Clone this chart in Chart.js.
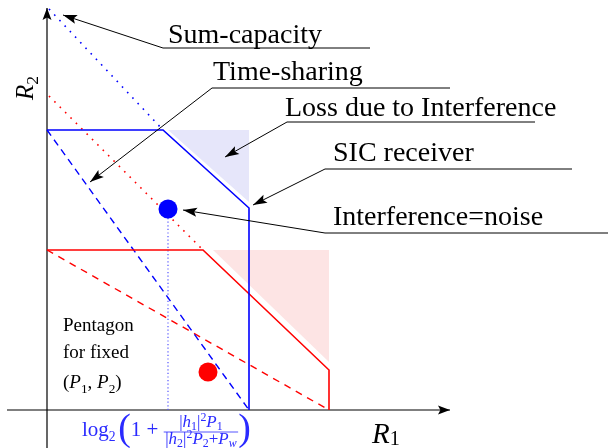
<!DOCTYPE html>
<html>
<head>
<meta charset="utf-8">
<script src="https://cdn.jsdelivr.net/npm/chart.js@4"></script>
<style>
  body { margin: 0; background: #fff; }
  #wrap { width: 608px; height: 448px; }
</style>
</head>
<body>
<div id="wrap"><canvas id="region"></canvas></div>
<script>
// --- Data (R1 along x, R2 along y, arbitrary rate units) ---
const blueRegionX = [0, 116, 202, 202];
const blueRegionY = [280, 280, 202, 0];
const redRegionX = [0, 156, 282, 282];
const redRegionY = [160, 160, 40, 0];

const blueSumX = [2, 116];
const blueSumY = [401, 280];
const redSumX = [2, 156];
const redSumY = [314, 160];

const blueShareX = [0, 202];
const blueShareY = [280, 0];
const redShareX = [0, 282];
const redShareY = [160, 0];

const noiseRateX = [121, 121];
const noiseRateY = [192, 0];
const noisePointX = [121, 161];
const noisePointY = [201, 38];

const blueLossX = [121, 202];
const blueLossY = [280, 208];
const redLossX = [166, 282];
const redLossY = [160, 48];

const axisX = [-40, 403];
const axisY = [-38, 402];

// annotations: tip of arrow -> knee -> end of underline
const notes = ['Sum-capacity', 'Time-sharing', 'Loss due to Interference', 'SIC receiver', 'Interference=noise'];
const noteTipX = [16, 43, 178, 206, 136];
const noteTipY = [395, 228, 253, 205, 200];
const noteKneeX = [116, 165, 240, 278, 278];
const noteKneeY = [362, 322, 288, 241, 177];
const noteEndX = [323, 403, 488, 525, 561];

// --- Layout of texts (data units) ---
const noteTextX = [121, 166, 238, 286, 286];
const noteTextY = [367, 330, 294, 249, 185];
const SERIF = '"Liberation Serif", "Times New Roman", serif';

const pts = (xs, ys) => xs.map((x, i) => ({ x, y: ys[i] }));

function line(xs, ys, color, width, dash) {
    return {
        data: pts(xs, ys),
        borderColor: color,
        borderWidth: width,
        borderDash: dash || [],
        pointRadius: 0,
        showLine: true,
        fill: false
    };
}

// run of text pieces: t text, it italic, k size factor, dy baseline shift (em)
function run(ctx, x, y, size, parts, dry) {
    parts.forEach(p => {
        const s = size * (p.k || 1);
        ctx.font = (p.it ? 'italic ' : '') + s + 'px ' + SERIF;
        if (!dry) ctx.fillText(p.t, x, y + (p.dy || 0) * size);
        x += ctx.measureText(p.t).width;
    });
    return x;
}

function arrowHead(ctx, fx, fy, tx, ty, color, len, w) {
    const a = Math.atan2(ty - fy, tx - fx);
    ctx.save();
    ctx.translate(tx, ty);
    ctx.rotate(a);
    ctx.fillStyle = color;
    ctx.beginPath();
    ctx.moveTo(0, 0);
    ctx.lineTo(-len, -w);
    ctx.lineTo(-len * 0.8, 0);
    ctx.lineTo(-len, w);
    ctx.closePath();
    ctx.fill();
    ctx.restore();
}

const notesPlugin = {
    id: 'notes',
    afterDatasetsDraw(chart) {
        const { ctx, scales: { x: sx, y: sy } } = chart;
        const px = v => sx.getPixelForValue(v);
        const py = v => sy.getPixelForValue(v);
        ctx.save();

        // arrowheads on leader lines and axes
        chart.data.datasets.forEach((ds, i) => {
            if (ds.arrowAt === undefined) return;
            const el = chart.getDatasetMeta(i).data;
            const tip = ds.arrowAt === 0 ? el[0] : el[el.length - 1];
            const from = ds.arrowAt === 0 ? el[1] : el[el.length - 2];
            arrowHead(ctx, from.x, from.y, tip.x, tip.y, '#000', ds.arrowAt === 0 ? 14 : 12, 4.5);
        });

        // annotation texts
        ctx.fillStyle = '#000';
        ctx.textBaseline = 'alphabetic';
        ctx.font = '28px ' + SERIF;
        notes.forEach((t, i) => ctx.fillText(t, px(noteTextX[i]), py(noteTextY[i])));

        // pentagon caption
        ctx.font = '19px ' + SERIF;
        ctx.fillText('Pentagon', px(16), py(79));
        ctx.fillText('for fixed', px(16), py(52));
        run(ctx, px(16), py(22), 19, [
            { t: '(' }, { t: 'P', it: true }, { t: '1', k: 0.7, dy: 0.25 }, { t: ', ' },
            { t: 'P', it: true }, { t: '2', k: 0.7, dy: 0.25 }, { t: ')' }
        ]);

        // axis names
        run(ctx, px(325), py(-33), 29, [{ t: 'R', it: true }, { t: '1', k: 0.7, dy: 0.08 }]);
        ctx.save();
        ctx.translate(px(-14), py(310));
        ctx.rotate(-Math.PI / 2);
        run(ctx, 0, 0, 25, [{ t: 'R', it: true }, { t: '2', k: 0.7, dy: 0.2 }]);
        ctx.restore();

        // rate formula under the R1 axis
        ctx.fillStyle = '#2a2aff';
        ctx.strokeStyle = '#2a2aff';
        const base = py(-26);
        let x = run(ctx, px(35), base, 21, [
            { t: 'log' }, { t: '2', k: 0.65, dy: 0.25 }, { t: ' ', k: 0.5 },
            { t: '(', k: 1.8, dy: 0.17 }, { t: '1 + ' }
        ]);
        const num = [
            { t: '|' }, { t: 'h', it: true }, { t: '1', k: 0.7, dy: 0.2 }, { t: '|' },
            { t: '2', k: 0.7, dy: -0.35 }, { t: 'P', it: true }, { t: '1', k: 0.7, dy: 0.2 }
        ];
        const den = [
            { t: '|' }, { t: 'h', it: true }, { t: '2', k: 0.7, dy: 0.2 }, { t: '|' },
            { t: '2', k: 0.7, dy: -0.35 }, { t: 'P', it: true }, { t: '2', k: 0.7, dy: 0.2 },
            { t: '+' }, { t: 'P', it: true }, { t: 'w', it: true, k: 0.7, dy: 0.2 }
        ];
        const wn = run(ctx, 0, 0, 17, num, true);
        const wd = run(ctx, 0, 0, 17, den, true);
        const wf = Math.max(wn, wd) + 3;
        run(ctx, x + (wf - wn) / 2, base - 9, 17, num);
        run(ctx, x + (wf - wd) / 2, base + 8, 17, den);
        ctx.lineWidth = 0.8;
        ctx.beginPath();
        ctx.moveTo(x, base - 4);
        ctx.lineTo(x + wf, base - 4);
        ctx.stroke();
        run(ctx, x + wf, base, 21, [{ t: ')', k: 1.8, dy: 0.17 }]);

        ctx.restore();
    }
};

const leaders = notes.map((t, i) => {
    const ds = line([noteTipX[i], noteKneeX[i], noteEndX[i]],
                    [noteTipY[i], noteKneeY[i], noteKneeY[i]], '#000', 1);
    ds.arrowAt = 0;
    return ds;
});

const xAxisLine = line(axisX, [0, 0], '#000', 1.2);
xAxisLine.arrowAt = 'end';
const yAxisLine = line([0, 0], axisY, '#000', 1.2);
yAxisLine.arrowAt = 'end';

const blueShade = line(blueLossX, blueLossY, 'rgba(0,0,0,0)', 0);
blueShade.fill = { target: { value: 280 } };
blueShade.backgroundColor = '#e6e6fa';
const redShade = line(redLossX, redLossY, 'rgba(0,0,0,0)', 0);
redShade.fill = { target: { value: 160 } };
redShade.backgroundColor = '#fde4e4';

new Chart(document.getElementById('region'), {
    type: 'scatter',
    data: {
        datasets: [
            {
                data: pts(noisePointX, noisePointY),
                pointRadius: 9.5,
                pointBackgroundColor: ['#0000ff', '#ff0000'],
                pointBorderWidth: 0,
                showLine: false
            },
            ...leaders,
            line(blueRegionX, blueRegionY, '#0000ff', 1.6),
            line(redRegionX, redRegionY, '#ff0000', 1.6),
            line(blueSumX, blueSumY, '#0000ff', 1.6, [1.6, 6]),
            line(redSumX, redSumY, '#ff0000', 1.6, [1.6, 6]),
            line(blueShareX, blueShareY, '#0000ff', 1.4, [7, 5]),
            line(redShareX, redShareY, '#ff0000', 1.4, [7, 6]),
            line(noiseRateX, noiseRateY, '#5555ff', 1.2, [1.2, 2.4]),
            xAxisLine,
            yAxisLine,
            blueShade,
            redShade
        ]
    },
    options: {
        responsive: true,
        maintainAspectRatio: false,
        animation: false,
        events: [],
        layout: { padding: 0, autoPadding: false },
        scales: {
            x: { type: 'linear', min: -47, max: 561, display: false },
            y: { type: 'linear', min: -38, max: 410, display: false }
        },
        plugins: { legend: { display: false }, tooltip: { enabled: false } }
    },
    plugins: [notesPlugin]
});
</script>
</body>
</html>
